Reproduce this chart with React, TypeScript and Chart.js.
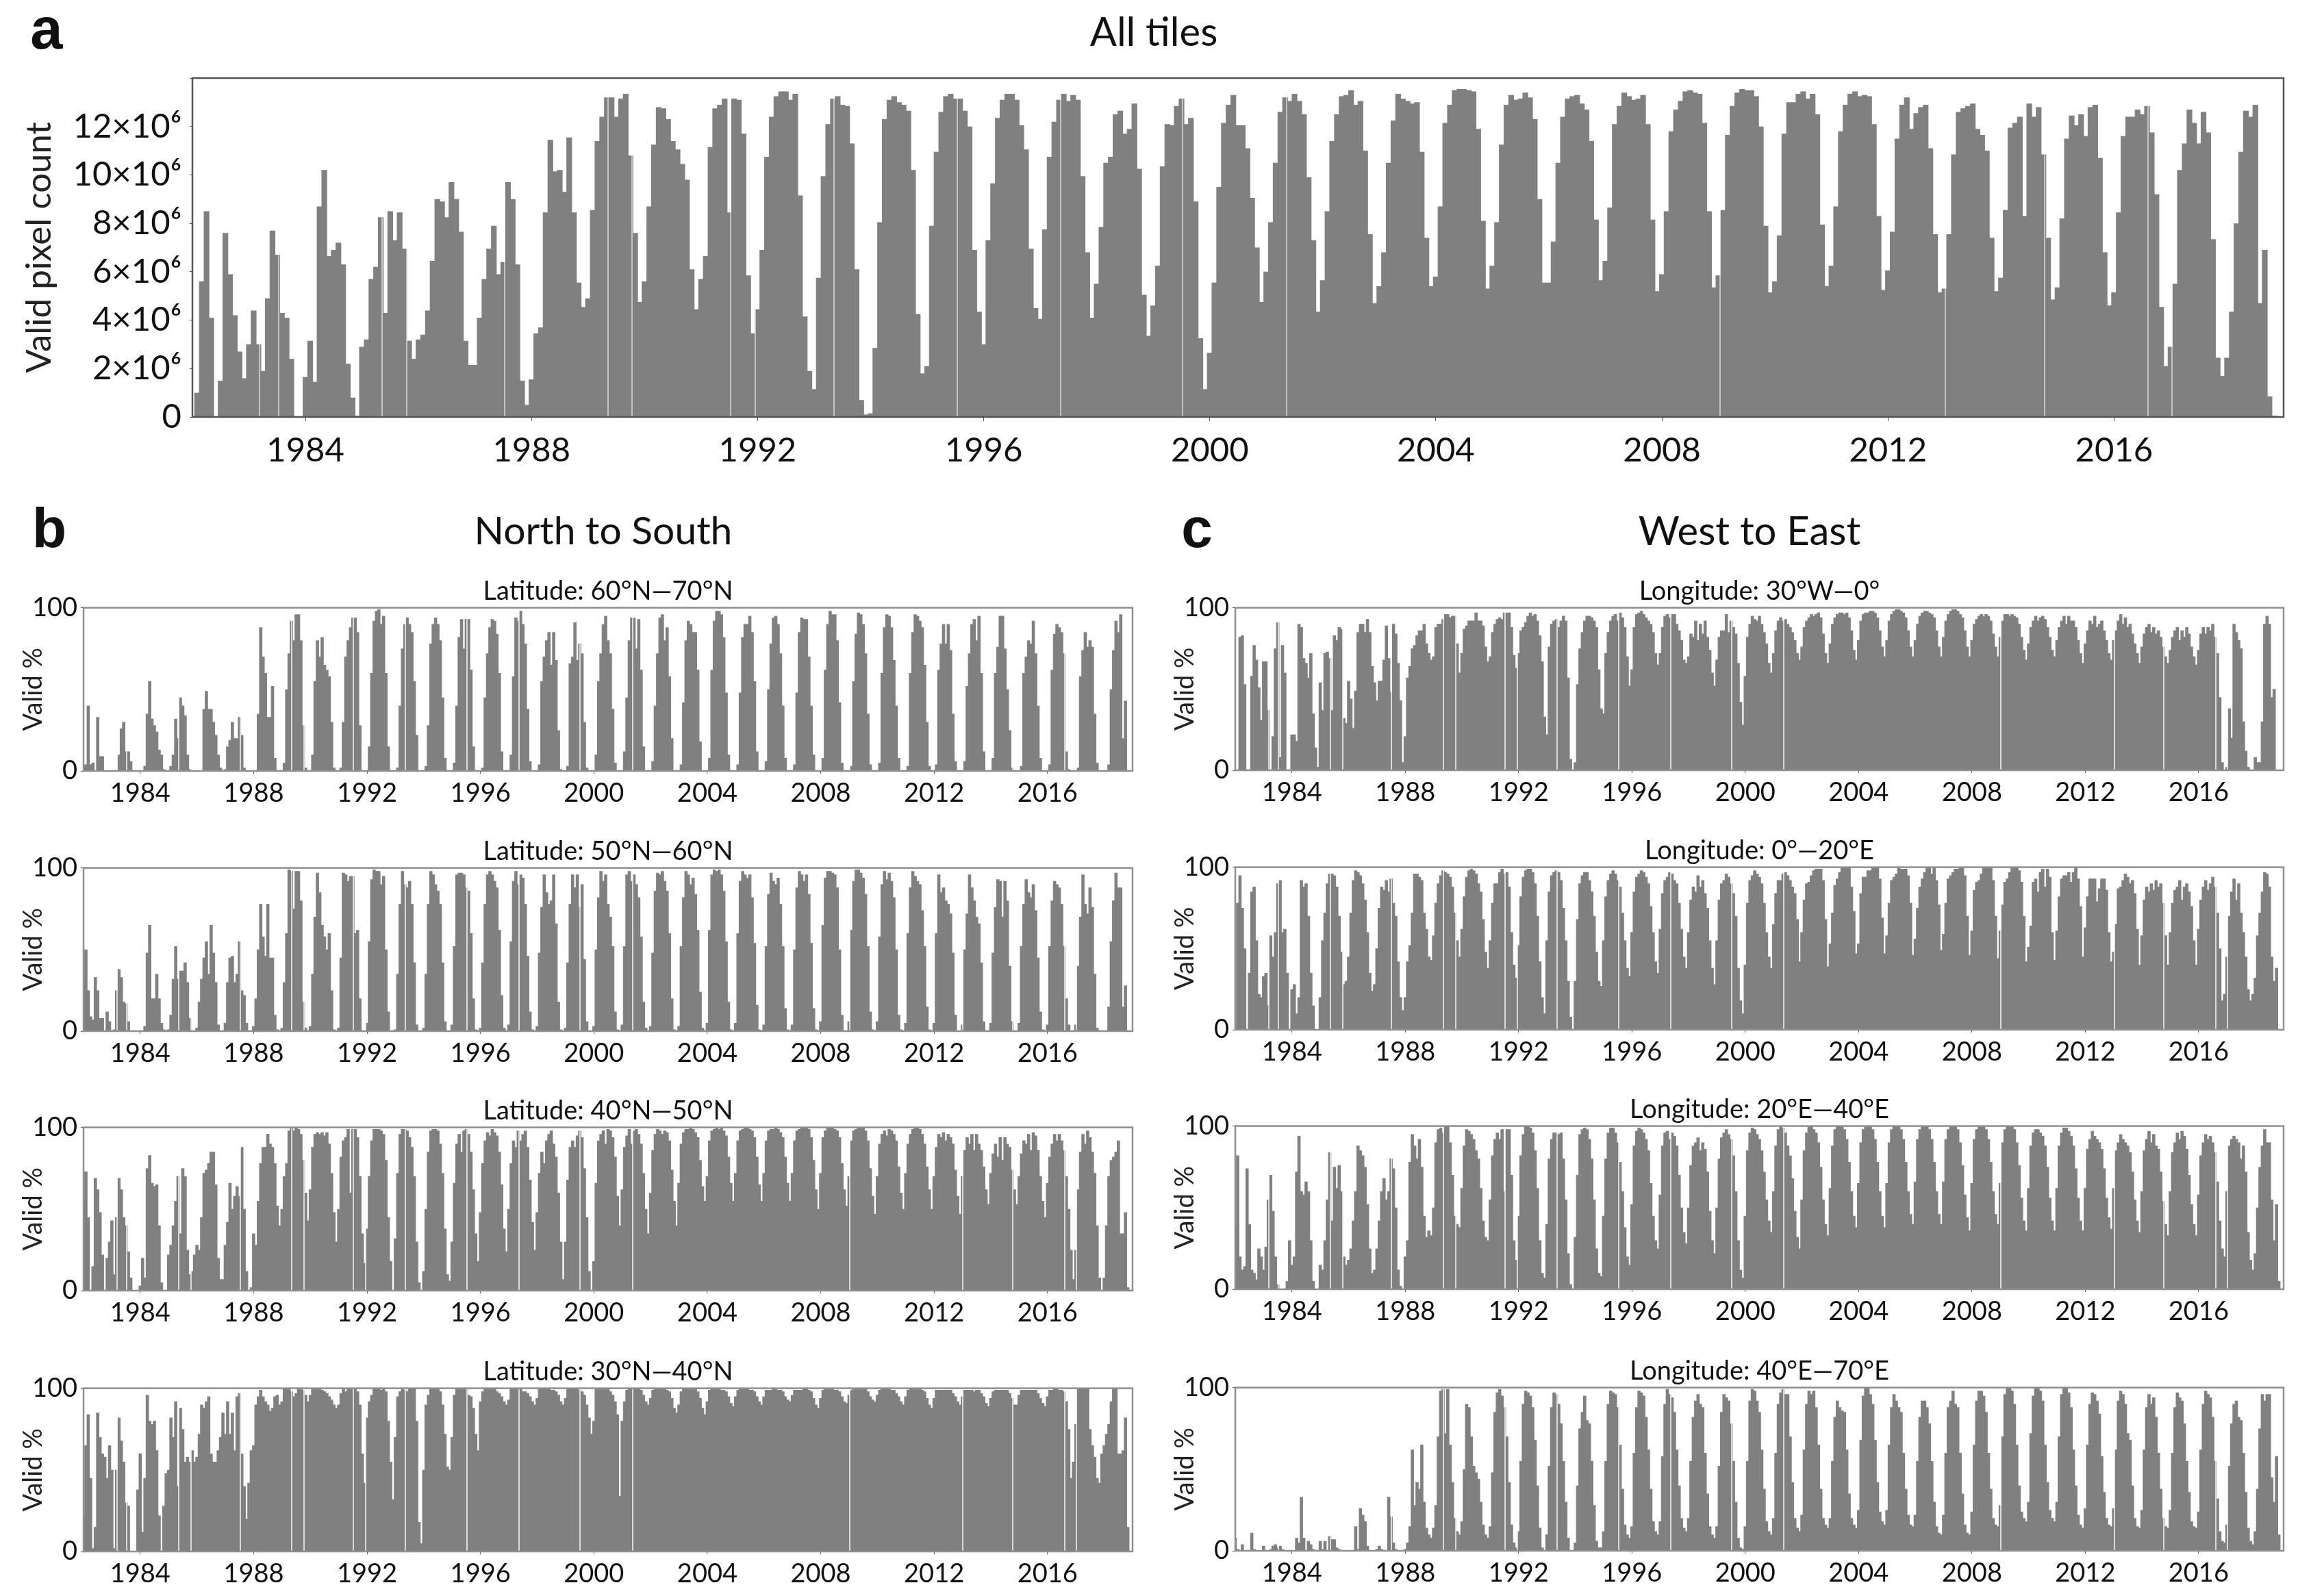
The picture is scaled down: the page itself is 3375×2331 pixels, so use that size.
import React, { useRef, useEffect } from 'react';
import Chart from 'chart.js/auto';

const years = Array.from({ length: 37 }, (_, i) => 1982 + i);
const months = ['01', '02', '03', '04', '05', '06', '07', '08', '09', '10', '11', '12'];
const tickYears = [1984, 1988, 1992, 1996, 2000, 2004, 2008, 2012, 2016];

// thin pale lines that cut through the bars in every panel, in decimal years
const gapDates = [
  1983.19, 1983.53, 1985.36, 1985.79, 1987.52, 1989.35, 1989.78, 1991.52, 1991.96, 1993.35,
  1995.53, 1997.36, 1999.52, 2001.36, 2009.03, 2013.02, 2014.77, 2016.6, 2017.03,
];

// valid pixel count in millions, Jan 1982 sits half outside the frame
const allTiles = [
  0,
  1.0, 5.6, 8.5, 4.1, 0, 1.5, 7.6, 5.9, 4.2, 2.7, 1.6, 3.0,
  4.4, 3.0, 1.9, 4.9, 7.7, 6.7, 4.3, 4.1, 2.4, 0, 0, 1.65,
  3.15, 1.45, 8.7, 10.2, 6.65, 6.9, 7.2, 6.3, 2.2, 0.8, 0.05, 2.9,
  3.2, 5.7, 6.2, 8.25, 4.3, 8.5, 7.3, 8.45, 6.95, 3.15, 2.4, 3.2,
  3.4, 4.4, 6.45, 9.0, 8.9, 8.25, 9.7, 9.0, 7.65, 3.15, 2.15, 2.15,
  4.1, 5.7, 6.95, 7.9, 5.9, 6.4, 9.7, 9.0, 6.3, 1.5, 0.5, 1.55,
  3.45, 3.7, 8.45, 11.45, 10.15, 10.2, 9.3, 11.55, 8.45, 5.55, 4.55, 4.9,
  8.55, 11.4, 12.4, 13.2, 13.2, 12.4, 13.15, 13.35, 10.8, 7.6, 4.75, 5.6,
  8.7, 11.25, 12.8, 12.75, 12.3, 11.4, 11.05, 10.45, 9.8, 6.1, 4.45, 5.7,
  6.65, 11.15, 12.75, 12.9, 13.15, 8.45, 13.15, 13.1, 11.7, 5.85, 3.45, 4.45,
  6.9, 10.75, 12.4, 13.25, 13.45, 13.45, 13.1, 13.35, 9.15, 4.15, 1.9, 1.15,
  5.75, 9.95, 12.1, 13.15, 13.25, 12.9, 12.85, 11.3, 6.1, 0.7, 0.1, 0.15,
  2.85, 8.05, 12.3, 13.1, 13.25, 13.0, 12.9, 12.65, 10.2, 4.25, 1.8, 2.1,
  7.9, 10.95, 12.6, 13.25, 13.35, 13.15, 13.15, 12.65, 12.0, 6.9, 4.35, 3.0,
  7.3, 9.65, 12.35, 13.1, 13.35, 13.35, 13.1, 12.05, 11.05, 6.95, 4.5, 4.05,
  7.75, 10.75, 12.2, 13.1, 13.35, 13.05, 13.3, 13.1, 9.95, 6.8, 4.1, 5.5,
  7.85, 10.5, 10.75, 12.5, 12.65, 11.7, 11.9, 12.95, 10.25, 5.05, 3.35, 4.6,
  6.25, 10.35, 12.1, 12.05, 12.85, 13.15, 12.1, 12.35, 8.9, 3.25, 1.15, 2.65,
  5.55, 9.5, 12.15, 12.9, 13.3, 12.05, 12.05, 11.1, 9.05, 7.0, 4.75, 6.0,
  8.05, 10.5, 12.6, 13.2, 13.05, 13.35, 13.05, 12.5, 9.9, 7.3, 4.35, 5.65,
  8.5, 11.4, 12.5, 13.25, 13.3, 13.5, 12.9, 13.05, 11.0, 7.55, 4.7, 5.4,
  6.8, 10.5, 12.25, 13.35, 13.15, 13.05, 12.95, 13.0, 10.95, 7.4, 5.4, 5.8,
  8.7, 12.15, 12.9, 13.5, 13.55, 13.55, 13.5, 13.45, 11.9, 8.1, 5.3, 6.25,
  8.05, 11.25, 12.9, 13.3, 13.1, 13.15, 13.4, 13.2, 12.3, 9.0, 5.55, 5.55,
  7.25, 10.5, 12.4, 13.15, 13.25, 13.3, 12.95, 12.7, 11.4, 8.15, 5.65, 6.45,
  8.65, 12.1, 12.85, 13.4, 13.25, 13.1, 13.15, 13.3, 12.1, 8.15, 5.2, 5.9,
  8.5, 11.8, 12.7, 13.05, 13.45, 13.5, 13.4, 13.35, 12.15, 8.5, 5.35, 5.85,
  8.55, 11.65, 12.85, 13.4, 13.55, 13.5, 13.5, 13.25, 12.0, 7.9, 5.15, 5.6,
  7.5, 11.7, 13.0, 13.0, 13.35, 13.45, 13.15, 13.35, 12.5, 7.95, 5.4, 6.25,
  8.7, 11.8, 12.9, 13.35, 13.45, 13.25, 13.3, 13.25, 12.1, 8.3, 5.25, 6.05,
  7.65, 11.5, 12.9, 13.2, 11.9, 12.55, 12.8, 12.9, 11.1, 7.55, 5.15, 5.3,
  7.55, 10.85, 12.6, 12.75, 12.85, 12.95, 11.9, 11.65, 11.0, 7.4, 5.2, 5.75,
  8.55, 11.95, 12.15, 12.4, 8.3, 12.95, 12.4, 12.8, 10.85, 7.4, 4.85, 5.35,
  8.2, 11.5, 12.45, 12.05, 12.5, 11.6, 12.8, 12.9, 10.7, 6.8, 4.6, 5.15,
  8.45, 11.6, 12.4, 12.4, 12.7, 12.5, 12.85, 11.75, 9.2, 4.55, 2.1, 2.9,
  5.5, 10.2, 11.3, 12.7, 12.15, 11.3, 12.6, 11.75, 7.35, 2.45, 1.7, 2.45,
  4.35, 8.0, 10.95, 12.65, 12.4, 12.9, 4.7, 6.9, 0.85, 0.05, 0,
];

// valid %, monthly, one row per year
const lat60to70 = [
  2, 4, 40, 4, 5, 0, 33, 9, 9, 0, 0, 0,
  0, 0, 0, 10, 26, 30, 12, 12, 6, 0, 0, 0,
  0, 0, 3, 35, 55, 32, 28, 24, 13, 10, 1, 0,
  0, 3, 10, 32, 20, 45, 40, 34, 10, 1, 0, 0,
  0, 0, 0, 38, 49, 38, 38, 30, 22, 10, 2, 0,
  1, 15, 19, 30, 20, 20, 33, 22, 2, 0, 0, 0,
  0, 0, 35, 88, 70, 60, 33, 33, 52, 8, 0, 0,
  0, 5, 50, 72, 92, 80, 96, 96, 80, 28, 2, 0,
  0, 10, 55, 80, 70, 82, 65, 62, 58, 30, 2, 0,
  0, 2, 30, 70, 80, 88, 94, 94, 85, 28, 0, 0,
  0, 15, 60, 92, 98, 99, 90, 95, 60, 15, 0, 0,
  0, 2, 40, 75, 90, 94, 90, 85, 55, 22, 0, 0,
  0, 3, 28, 78, 90, 94, 90, 80, 45, 8, 0, 0,
  0, 5, 40, 82, 93, 75, 93, 93, 62, 15, 0, 0,
  0, 2, 45, 72, 88, 93, 92, 84, 60, 12, 0, 0,
  0, 10, 58, 94, 92, 98, 90, 78, 38, 6, 0, 0,
  0, 4, 55, 70, 80, 85, 65, 85, 68, 25, 1, 0,
  0, 3, 66, 70, 91, 68, 78, 72, 30, 2, 0, 0,
  0, 10, 55, 72, 90, 95, 80, 72, 38, 5, 0, 0,
  0, 12, 45, 80, 94, 94, 75, 93, 62, 15, 0, 0,
  0, 6, 40, 72, 94, 96, 80, 88, 58, 20, 0, 0,
  0, 4, 42, 80, 92, 90, 85, 85, 62, 18, 0, 0,
  0, 8, 62, 92, 98, 98, 96, 82, 48, 10, 0, 0,
  0, 4, 48, 82, 90, 90, 95, 85, 55, 12, 0, 0,
  0, 6, 50, 78, 94, 95, 90, 72, 40, 8, 0, 0,
  0, 4, 48, 85, 94, 93, 93, 70, 40, 10, 0, 0,
  0, 8, 62, 90, 98, 96, 96, 80, 42, 5, 0, 0,
  0, 3, 55, 84, 97, 96, 90, 72, 35, 4, 0, 0,
  0, 5, 60, 88, 96, 95, 88, 68, 40, 8, 0, 0,
  0, 3, 60, 85, 96, 95, 92, 88, 65, 30, 3, 0,
  0, 4, 62, 78, 90, 78, 90, 74, 35, 6, 0, 0,
  0, 6, 52, 72, 90, 93, 80, 95, 60, 12, 0, 0,
  0, 8, 60, 76, 95, 95, 75, 50, 25, 2, 0, 0,
  0, 3, 60, 70, 80, 78, 92, 72, 40, 8, 0, 0,
  0, 4, 62, 84, 90, 88, 85, 72, 12, 1, 0, 0,
  0, 2, 58, 74, 85, 76, 80, 76, 35, 5, 0, 0,
  0, 0, 4, 50, 74, 92, 85, 96, 20, 43, 0, 0,
];

const lat50to60 = [
  33, 50, 25, 9, 7, 33, 25, 8, 8, 0, 12, 6,
  0, 1, 25, 38, 33, 18, 17, 6, 0, 0, 0, 0,
  0, 0, 3, 48, 65, 20, 20, 35, 20, 5, 1, 0,
  1, 10, 32, 52, 32, 37, 37, 42, 30, 8, 0, 0,
  2, 18, 32, 45, 55, 35, 65, 48, 30, 4, 0, 0,
  5, 30, 45, 46, 30, 35, 55, 25, 22, 5, 0, 0,
  3, 20, 50, 78, 58, 46, 78, 45, 45, 10, 1, 0,
  2, 30, 60, 99, 98, 75, 98, 98, 80, 18, 2, 0,
  3, 35, 70, 97, 85, 65, 58, 50, 60, 25, 1, 0,
  2, 45, 97, 96, 92, 95, 95, 60, 62, 20, 0, 0,
  5, 55, 93, 99, 98, 98, 90, 95, 50, 12, 0, 0,
  1, 35, 78, 98, 90, 88, 92, 78, 42, 4, 0, 0,
  2, 35, 78, 98, 96, 90, 86, 78, 42, 6, 0, 0,
  4, 52, 96, 97, 97, 96, 88, 86, 60, 20, 1, 0,
  2, 42, 78, 96, 98, 96, 92, 88, 62, 22, 2, 0,
  4, 55, 92, 98, 90, 96, 94, 78, 46, 12, 1, 0,
  3, 48, 76, 96, 85, 78, 80, 96, 66, 18, 1, 0,
  2, 42, 78, 96, 88, 96, 76, 90, 44, 6, 0, 0,
  3, 50, 82, 98, 92, 96, 78, 70, 52, 12, 1, 0,
  4, 52, 96, 98, 92, 96, 90, 82, 58, 18, 2, 0,
  3, 48, 86, 97, 96, 98, 92, 86, 60, 20, 1, 0,
  3, 52, 82, 98, 96, 90, 94, 84, 62, 24, 2, 0,
  5, 62, 96, 99, 98, 99, 96, 86, 55, 18, 1, 0,
  5, 60, 92, 98, 96, 94, 96, 82, 54, 16, 1, 0,
  4, 52, 84, 97, 92, 90, 94, 78, 52, 14, 1, 0,
  4, 50, 88, 98, 96, 92, 96, 84, 54, 14, 1, 0,
  6, 65, 94, 98, 98, 97, 96, 88, 50, 10, 0, 0,
  6, 62, 92, 99, 99, 97, 94, 84, 52, 12, 1, 0,
  6, 58, 90, 98, 93, 97, 92, 82, 50, 10, 1, 0,
  5, 60, 88, 98, 95, 92, 90, 74, 52, 15, 1, 0,
  5, 60, 96, 85, 88, 80, 78, 72, 48, 10, 0, 0,
  4, 50, 72, 96, 88, 80, 70, 66, 42, 6, 0, 0,
  5, 48, 76, 93, 92, 70, 92, 80, 40, 6, 0, 0,
  5, 52, 78, 93, 85, 82, 90, 74, 45, 12, 1, 0,
  4, 52, 80, 92, 90, 88, 78, 52, 20, 4, 0, 0,
  4, 40, 70, 96, 78, 72, 88, 76, 35, 2, 0, 0,
  0, 0, 15, 55, 80, 97, 88, 88, 15, 28, 0, 0,
];

const lat40to50 = [
  55, 73, 45, 0, 15, 69, 62, 48, 22, 0, 20, 30,
  43, 10, 45, 69, 62, 45, 40, 24, 8, 0, 0, 0,
  3, 20, 8, 75, 83, 66, 64, 65, 40, 5, 0, 0,
  22, 28, 40, 55, 70, 35, 75, 70, 25, 10, 12, 22,
  28, 25, 45, 72, 74, 78, 85, 85, 65, 20, 7, 7,
  28, 42, 66, 50, 58, 64, 58, 88, 50, 12, 0, 2,
  35, 28, 55, 78, 88, 88, 96, 90, 88, 78, 52, 40,
  50, 70, 78, 98, 100, 98, 100, 99, 96, 80, 60, 43,
  62, 88, 96, 97, 96, 97, 95, 97, 90, 72, 48, 30,
  50, 82, 92, 94, 99, 60, 99, 99, 94, 70, 35, 17,
  38, 70, 92, 99, 99, 99, 98, 96, 80, 45, 18, 0,
  32, 72, 96, 99, 99, 98, 94, 88, 70, 30, 5, 0,
  12, 50, 85, 98, 99, 99, 98, 90, 72, 38, 10, 6,
  30, 66, 90, 96, 85, 98, 99, 96, 85, 62, 35, 18,
  48, 78, 92, 97, 95, 99, 97, 95, 85, 65, 38, 24,
  50, 78, 92, 88, 98, 92, 96, 98, 88, 68, 42, 25,
  48, 72, 85, 78, 92, 96, 98, 90, 82, 60, 30, 7,
  30, 68, 88, 92, 88, 95, 98, 94, 75, 45, 12, 0,
  18, 66, 92, 96, 98, 90, 99, 98, 94, 82, 58, 40,
  62, 88, 95, 99, 90, 98, 99, 96, 90, 72, 50, 35,
  60, 86, 96, 99, 98, 96, 98, 97, 92, 74, 55, 40,
  66, 90, 97, 99, 99, 100, 99, 97, 94, 80, 64, 55,
  70, 92, 98, 99, 100, 99, 100, 98, 95, 82, 66, 55,
  72, 92, 98, 99, 100, 100, 99, 98, 94, 82, 65, 55,
  72, 92, 98, 99, 99, 100, 99, 97, 94, 82, 66, 55,
  72, 92, 98, 99, 100, 100, 100, 99, 94, 80, 62, 50,
  72, 94, 98, 100, 100, 100, 99, 98, 94, 78, 62, 52,
  70, 92, 98, 99, 100, 100, 100, 98, 92, 75, 58, 47,
  70, 90, 96, 98, 95, 99, 98, 96, 92, 76, 60, 50,
  72, 90, 96, 99, 100, 100, 99, 96, 90, 76, 62, 50,
  70, 88, 96, 94, 97, 92, 96, 94, 90, 74, 58, 47,
  70, 86, 94, 90, 96, 86, 96, 90, 86, 76, 62, 53,
  72, 84, 90, 82, 94, 80, 94, 90, 88, 74, 62, 53,
  70, 84, 92, 90, 96, 86, 97, 95, 86, 70, 55, 45,
  66, 82, 90, 96, 92, 96, 92, 86, 70, 50, 25, 7,
  25, 62, 85, 96, 90, 98, 94, 85, 72, 40, 8, 0,
  8, 40, 70, 80, 82, 85, 92, 35, 35, 48, 2,
];

const lat30to40 = [
  22, 65, 84, 45, 2, 15, 85, 70, 60, 58, 45, 65,
  50, 2, 50, 82, 68, 55, 30, 28, 0, 0, 0, 38,
  60, 12, 45, 96, 80, 78, 80, 62, 22, 0, 28, 48,
  50, 82, 70, 92, 40, 88, 75, 55, 58, 55, 62, 55,
  58, 72, 90, 88, 92, 95, 60, 55, 55, 62, 70, 85,
  72, 92, 72, 85, 62, 95, 97, 60, 40, 20, 42, 62,
  65, 90, 95, 99, 95, 92, 90, 86, 88, 95, 96, 90,
  92, 100, 100, 100, 98, 95, 97, 100, 100, 99, 96, 92,
  96, 100, 100, 100, 100, 99, 98, 97, 95, 93, 90, 88,
  90, 97, 100, 98, 100, 100, 100, 100, 98, 90, 60, 42,
  82, 92, 96, 100, 100, 100, 99, 100, 98, 80, 55, 32,
  70, 95, 98, 100, 99, 98, 100, 100, 100, 80, 18, 5,
  50, 90, 96, 100, 100, 100, 100, 98, 90, 72, 52, 50,
  70, 96, 100, 100, 100, 100, 100, 96, 95, 88, 72, 62,
  92, 98, 100, 100, 100, 100, 100, 98, 97, 95, 92, 90,
  93, 100, 100, 100, 100, 100, 98, 98, 97, 95, 92, 90,
  94, 100, 100, 100, 100, 100, 99, 99, 98, 96, 92, 90,
  94, 100, 100, 100, 100, 100, 99, 98, 96, 90, 82, 72,
  80, 100, 100, 100, 100, 100, 100, 98, 96, 92, 84, 34,
  80, 92, 99, 100, 100, 100, 100, 100, 99, 96, 92, 90,
  94, 99, 100, 100, 100, 100, 100, 99, 98, 94, 88, 85,
  90, 98, 100, 100, 100, 100, 100, 100, 98, 94, 88, 84,
  92, 99, 100, 100, 100, 100, 99, 99, 98, 95, 91, 89,
  95, 99, 100, 100, 100, 100, 99, 99, 98, 95, 92, 90,
  95, 99, 99, 99, 100, 100, 99, 99, 98, 95, 93, 92,
  96, 99, 99, 99, 99, 100, 100, 99, 98, 94, 90, 88,
  94, 99, 100, 100, 100, 100, 99, 99, 98, 95, 92, 91,
  96, 99, 100, 100, 100, 100, 100, 100, 98, 95, 93, 92,
  96, 99, 100, 100, 100, 100, 99, 99, 97, 95, 92, 90,
  95, 99, 100, 100, 100, 100, 100, 99, 98, 94, 90, 88,
  94, 99, 99, 99, 99, 99, 99, 99, 97, 95, 92, 90,
  95, 99, 99, 99, 99, 98, 99, 99, 97, 95, 91, 89,
  94, 98, 99, 99, 99, 99, 99, 99, 97, 94, 90, 90,
  96, 99, 99, 99, 99, 99, 99, 99, 97, 94, 91, 89,
  95, 99, 99, 100, 100, 99, 99, 98, 92, 75, 45, 55,
  78, 100, 100, 100, 100, 100, 75, 65, 58, 45, 42, 60,
  65, 72, 78, 92, 100, 100, 60, 60, 62, 82, 15,
];

const lon30Wto0 = [
  0, 0, 82, 83, 53, 0, 0, 58, 77, 68, 51, 31,
  67, 67, 37, 0, 21, 75, 91, 8, 77, 60, 0, 0,
  22, 22, 18, 90, 88, 69, 66, 57, 72, 35, 14, 2,
  54, 37, 72, 73, 69, 37, 83, 80, 88, 87, 32, 29,
  55, 44, 26, 49, 85, 90, 90, 85, 93, 85, 64, 54,
  43, 55, 55, 68, 89, 69, 48, 90, 84, 66, 43, 5,
  21, 57, 64, 75, 77, 83, 86, 86, 90, 78, 72, 68,
  70, 88, 90, 90, 93, 96, 96, 94, 95, 95, 78, 60,
  72, 87, 89, 92, 92, 92, 97, 92, 92, 89, 76, 67,
  70, 85, 90, 93, 94, 93, 97, 97, 97, 88, 71, 63,
  72, 86, 88, 91, 95, 97, 95, 96, 92, 83, 67, 33,
  22, 76, 90, 92, 93, 88, 92, 95, 92, 57, 7, 0,
  5, 53, 75, 85, 92, 95, 95, 94, 92, 88, 62, 38,
  35, 72, 85, 92, 95, 96, 92, 97, 94, 88, 70, 52,
  62, 88, 96, 97, 98, 96, 94, 92, 90, 85, 72, 65,
  72, 88, 95, 96, 94, 96, 96, 90, 86, 80, 68, 66,
  70, 84, 82, 92, 80, 90, 84, 92, 82, 74, 60, 52,
  68, 82, 86, 86, 96, 85, 92, 88, 84, 66, 42, 28,
  58, 82, 90, 95, 93, 92, 95, 90, 85, 78, 66, 60,
  72, 86, 92, 94, 92, 93, 90, 88, 85, 80, 72, 68,
  76, 88, 92, 94, 96, 95, 96, 97, 94, 84, 72, 66,
  78, 90, 94, 96, 97, 97, 96, 97, 94, 86, 74, 68,
  80, 92, 96, 97, 97, 98, 98, 97, 94, 86, 76, 70,
  80, 92, 96, 98, 99, 99, 98, 97, 94, 86, 76, 70,
  80, 90, 95, 97, 98, 98, 97, 96, 94, 86, 76, 70,
  82, 92, 96, 98, 99, 99, 98, 96, 94, 86, 76, 70,
  80, 90, 93, 95, 96, 95, 96, 95, 92, 84, 76, 70,
  82, 92, 96, 96, 95, 96, 95, 94, 90, 82, 74, 68,
  78, 88, 92, 95, 92, 94, 95, 93, 88, 82, 74, 70,
  80, 88, 92, 95, 90, 95, 92, 92, 88, 80, 72, 66,
  78, 86, 92, 90, 95, 88, 90, 92, 86, 80, 72, 68,
  80, 86, 92, 96, 90, 94, 88, 90, 84, 78, 72, 66,
  76, 84, 88, 90, 85, 88, 84, 86, 82, 76, 70, 66,
  74, 82, 86, 88, 80, 86, 82, 88, 84, 76, 70, 65,
  74, 84, 88, 84, 88, 86, 90, 82, 72, 45, 5, 0,
  2, 38, 20, 90, 85, 80, 75, 30, 12, 2, 0, 0,
  8, 5, 5, 30, 90, 95, 90, 45, 50, 0, 0,
];

const lon0to20E = [
  0, 78, 95, 75, 50, 0, 35, 85, 88, 55, 22, 20,
  33, 35, 15, 58, 45, 60, 90, 92, 60, 62, 35, 0,
  25, 28, 10, 20, 92, 88, 90, 70, 35, 15, 0, 0,
  20, 55, 72, 90, 96, 96, 95, 88, 70, 48, 28, 30,
  45, 72, 92, 98, 97, 95, 90, 80, 60, 35, 24, 28,
  50, 75, 88, 86, 92, 85, 93, 78, 70, 42, 20, 12,
  20, 42, 52, 72, 96, 96, 94, 92, 72, 62, 45, 43,
  58, 78, 90, 95, 98, 97, 96, 94, 88, 72, 55, 45,
  62, 82, 94, 98, 99, 98, 96, 90, 85, 68, 48, 38,
  55, 78, 90, 90, 97, 99, 96, 97, 88, 60, 40, 32,
  52, 82, 94, 98, 99, 99, 97, 90, 70, 42, 20, 10,
  55, 85, 95, 97, 98, 97, 92, 75, 55, 30, 8, 0,
  30, 68, 90, 95, 97, 97, 92, 85, 70, 48, 30, 27,
  55, 82, 92, 96, 98, 96, 92, 88, 72, 55, 38, 33,
  60, 85, 94, 96, 98, 97, 94, 90, 76, 60, 42, 35,
  62, 84, 92, 94, 97, 96, 92, 90, 78, 62, 45, 38,
  60, 80, 88, 85, 95, 88, 92, 84, 75, 55, 38, 28,
  55, 80, 90, 92, 96, 94, 90, 84, 70, 38, 18, 10,
  40, 78, 92, 95, 98, 96, 94, 90, 78, 60, 45, 38,
  65, 84, 92, 92, 96, 97, 95, 92, 88, 84, 68, 42,
  60, 80, 90, 91, 95, 98, 99, 99, 99, 92, 68, 39,
  53, 72, 89, 93, 97, 100, 100, 100, 100, 88, 73, 47,
  53, 84, 94, 94, 98, 98, 100, 100, 100, 93, 69, 47,
  58, 78, 92, 94, 96, 100, 99, 99, 99, 95, 78, 46,
  56, 75, 88, 93, 97, 100, 100, 96, 100, 92, 77, 49,
  59, 78, 93, 95, 97, 99, 99, 100, 100, 95, 70, 46,
  61, 86, 91, 92, 96, 100, 100, 100, 100, 92, 70, 44,
  61, 77, 91, 93, 97, 100, 100, 100, 98, 91, 70, 42,
  51, 64, 91, 93, 85, 97, 99, 88, 99, 94, 60, 43,
  61, 82, 93, 95, 95, 97, 91, 97, 100, 93, 76, 45,
  63, 82, 93, 93, 93, 79, 87, 93, 93, 86, 60, 42,
  48, 65, 87, 88, 92, 96, 94, 90, 92, 84, 62, 40,
  58, 80, 88, 85, 90, 86, 92, 88, 90, 78, 58, 40,
  60, 78, 86, 88, 92, 80, 88, 90, 85, 76, 55, 40,
  62, 80, 88, 92, 86, 90, 94, 88, 72, 50, 18, 22,
  45, 70, 85, 93, 80, 90, 72, 60, 45, 25, 18, 22,
  32, 58, 72, 85, 97, 96, 88, 45, 30, 38, 0,
];

const lon20to40E = [
  38, 82, 20, 12, 14, 74, 40, 12, 10, 6, 25, 20,
  12, 26, 55, 70, 48, 20, 3, 0, 0, 0, 5, 30,
  15, 20, 72, 94, 60, 58, 66, 60, 30, 5, 0, 0,
  15, 12, 30, 55, 84, 42, 75, 62, 76, 60, 20, 15,
  18, 25, 42, 60, 88, 85, 82, 75, 52, 25, 10, 12,
  25, 42, 60, 68, 55, 60, 80, 74, 50, 12, 2, 0,
  20, 30, 78, 95, 88, 80, 92, 75, 45, 32, 36, 33,
  50, 90, 98, 99, 96, 100, 100, 90, 70, 45, 40, 38,
  62, 88, 98, 97, 95, 92, 85, 80, 62, 42, 32, 30,
  55, 82, 92, 96, 92, 98, 60, 98, 98, 70, 30, 18,
  45, 82, 95, 100, 100, 99, 96, 85, 62, 30, 10, 7,
  40, 80, 92, 96, 96, 95, 96, 80, 55, 22, 3, 0,
  32, 70, 95, 98, 99, 98, 92, 80, 55, 25, 10, 8,
  45, 80, 96, 99, 99, 96, 90, 78, 60, 38, 20, 15,
  52, 88, 97, 99, 98, 96, 92, 85, 65, 45, 30, 25,
  58, 88, 96, 97, 92, 96, 94, 88, 70, 50, 35, 28,
  50, 76, 88, 90, 93, 85, 90, 86, 72, 48, 30, 22,
  50, 80, 93, 96, 98, 95, 92, 82, 60, 30, 12, 7,
  45, 85, 96, 99, 98, 95, 92, 85, 72, 55, 42, 35,
  60, 88, 98, 100, 99, 96, 88, 82, 68, 48, 32, 25,
  55, 85, 96, 100, 100, 98, 96, 90, 75, 55, 40, 33,
  62, 88, 98, 100, 100, 100, 98, 92, 78, 60, 45, 38,
  65, 90, 98, 100, 100, 100, 98, 92, 78, 60, 45, 38,
  65, 90, 98, 100, 100, 100, 98, 92, 78, 60, 46, 40,
  66, 92, 98, 100, 100, 100, 98, 92, 78, 60, 46, 40,
  66, 92, 98, 100, 100, 100, 98, 90, 76, 58, 44, 36,
  65, 92, 98, 100, 100, 100, 98, 92, 78, 60, 46, 40,
  65, 90, 98, 100, 100, 100, 98, 90, 76, 56, 42, 36,
  62, 88, 96, 98, 98, 96, 94, 88, 75, 56, 42, 36,
  62, 88, 96, 99, 99, 97, 94, 88, 74, 56, 42, 36,
  62, 86, 92, 97, 94, 92, 90, 86, 74, 56, 44, 37,
  62, 85, 90, 95, 92, 90, 88, 84, 72, 55, 42, 35,
  60, 85, 92, 97, 90, 95, 88, 86, 72, 54, 40, 33,
  60, 84, 90, 96, 92, 97, 94, 86, 70, 52, 40, 33,
  58, 82, 90, 95, 92, 94, 90, 84, 66, 42, 25, 20,
  60, 88, 92, 94, 92, 90, 80, 88, 72, 35, 18, 12,
  22, 50, 75, 88, 98, 90, 90, 55, 30, 52, 5,
];

const lon40to70E = [
  8, 1, 0, 4, 0, 0, 0, 11, 1, 0, 0, 0,
  3, 0, 0, 1, 3, 4, 2, 3, 1, 0, 0, 0,
  0, 0, 8, 5, 33, 8, 0, 6, 4, 1, 0, 0,
  6, 1, 6, 0, 9, 7, 7, 2, 1, 0, 0, 0,
  0, 0, 0, 15, 1, 26, 22, 18, 3, 0, 0, 0,
  1, 3, 1, 0, 0, 33, 21, 5, 1, 0, 0, 0,
  1, 5, 15, 62, 28, 42, 38, 65, 30, 14, 10, 8,
  14, 28, 70, 98, 99, 72, 99, 65, 42, 20, 12, 10,
  18, 50, 90, 88, 70, 52, 48, 44, 30, 16, 10, 8,
  15, 48, 85, 97, 99, 95, 88, 70, 42, 16, 5, 2,
  12, 55, 90, 98, 97, 95, 88, 68, 40, 14, 2, 0,
  10, 52, 88, 97, 96, 90, 78, 55, 30, 8, 0, 0,
  5, 40, 75, 85, 95, 80, 78, 55, 28, 6, 2, 2,
  12, 55, 90, 98, 97, 96, 88, 65, 38, 16, 10, 8,
  15, 60, 88, 98, 97, 95, 82, 62, 38, 18, 12, 10,
  18, 58, 90, 99, 96, 94, 85, 62, 40, 20, 14, 12,
  20, 55, 82, 92, 96, 90, 88, 60, 35, 15, 10, 8,
  15, 52, 85, 96, 94, 92, 78, 55, 30, 8, 2, 1,
  15, 55, 92, 99, 98, 92, 85, 62, 38, 18, 12, 10,
  20, 60, 90, 97, 99, 96, 96, 70, 42, 20, 14, 12,
  22, 62, 90, 98, 96, 98, 88, 65, 38, 20, 16, 14,
  20, 55, 82, 92, 88, 86, 85, 62, 35, 20, 16, 14,
  25, 68, 95, 100, 100, 96, 90, 68, 42, 24, 18, 16,
  25, 65, 88, 96, 92, 88, 85, 60, 38, 22, 16, 15,
  22, 55, 82, 92, 92, 88, 78, 55, 30, 15, 11, 10,
  22, 60, 88, 92, 98, 90, 88, 60, 35, 16, 11, 10,
  24, 65, 92, 98, 98, 95, 85, 60, 38, 20, 16, 15,
  28, 70, 96, 100, 100, 98, 90, 65, 40, 24, 20, 18,
  30, 72, 95, 100, 100, 98, 92, 65, 42, 25, 20, 18,
  30, 70, 96, 100, 100, 97, 88, 62, 40, 22, 16, 14,
  26, 65, 90, 97, 96, 92, 84, 58, 36, 20, 16, 15,
  26, 62, 92, 98, 96, 90, 72, 68, 40, 20, 15, 14,
  25, 62, 88, 96, 90, 94, 82, 60, 38, 20, 15, 14,
  25, 60, 88, 97, 94, 92, 78, 55, 36, 18, 15, 14,
  24, 62, 90, 98, 96, 94, 82, 55, 32, 12, 6, 5,
  16, 52, 78, 90, 92, 82, 80, 60, 36, 14, 6, 4,
  12, 38, 75, 96, 92, 96, 96, 45, 30, 58, 10,
];

const monthLabels = [...years.flatMap((y) => months.map((m) => `${y}-${m}`)), '2019-01'];
const tickLabels = tickYears.map((y) => `${y}-01`);

const framePlugin = {
  id: 'frame',
  afterDatasetsDraw(chart: any, _args: any, opts: any) {
    const { ctx, chartArea: a, scales } = chart;
    ctx.save();
    ctx.strokeStyle = 'rgba(255,255,255,0.7)';
    ctx.lineWidth = opts.gapWidth;
    gapDates.forEach((d) => {
      const px = Math.round(scales.x.getPixelForValue((d - 1982) * 12));
      ctx.beginPath();
      ctx.moveTo(px, a.top);
      ctx.lineTo(px, a.bottom);
      ctx.stroke();
    });
    ctx.strokeStyle = opts.color;
    ctx.lineWidth = opts.width;
    ctx.strokeRect(a.left, a.top, a.right - a.left, a.bottom - a.top);
    ctx.restore();
  },
};

type PanelProps = {
  left: number;
  top: number;
  width: number;
  height: number;
  values: number[];
  title?: string;
  big?: boolean;
};

const Panel = ({ left, top, width, height, values, title, big }: PanelProps) => {
  const chartRef = useRef<HTMLCanvasElement>(null);
  const axisW = big ? 281 : 122;
  const axisH = big ? 90 : 60;
  const headH = title ? 50 : 6;

  useEffect(() => {
    if (!chartRef.current) return;
    const myChart = new Chart(chartRef.current, {
      type: 'bar',
      data: {
        labels: monthLabels,
        datasets: [
          {
            data: values,
            backgroundColor: '#808080',
            borderWidth: 0,
            // bars overlap a little, otherwise antialiased seams show between them
            barPercentage: big ? 1.2 : 1.35,
            categoryPercentage: 1,
          },
        ],
      },
      plugins: [framePlugin],
      options: {
        responsive: false,
        animation: false,
        layout: { padding: { right: 4, top: title ? 0 : 6 } },
        plugins: {
          legend: { display: false },
          tooltip: { enabled: false },
          title: {
            display: !!title,
            text: title,
            color: '#111',
            fullSize: false,
            font: { family: 'Lato', size: 38, weight: 'normal' },
            padding: { top: 3, bottom: 1 },
          },
          frame: { color: big ? '#555555' : '#8f8f8f', width: 2.5, gapWidth: big ? 1.5 : 2 },
        } as any,
        scales: {
          x: {
            offset: false,
            grid: { drawOnChartArea: false, offset: false, tickLength: big ? 6 : 4, color: '#555' },
            border: { display: false },
            afterBuildTicks: (axis: any) => {
              axis.ticks = axis.ticks.filter((t: any) => tickLabels.includes(monthLabels[t.value]));
            },
            afterFit: (axis: any) => {
              axis.height = axisH;
              axis.paddingLeft = 0;
              axis.paddingRight = 0;
            },
            ticks: {
              autoSkip: false,
              maxRotation: 0,
              color: '#111',
              padding: big ? 14 : 6,
              font: { family: 'Lato', size: big ? 49 : 38 },
              callback: (v: any) => monthLabels[v].slice(0, 4),
            },
          },
          y: {
            min: 0,
            max: big ? 14 : 100,
            grid: { drawOnChartArea: false, tickLength: 4, color: '#555' },
            border: { display: false },
            afterFit: (axis: any) => {
              axis.width = axisW;
              axis.paddingTop = 0;
              axis.paddingBottom = 0;
            },
            title: {
              display: true,
              text: big ? 'Valid pixel count' : 'Valid %',
              color: '#222',
              font: { family: 'Lato', size: big ? 51 : 38 },
              padding: { top: big ? 27 : 26, bottom: 0 },
            },
            ticks: {
              stepSize: big ? 2 : 100,
              color: '#111',
              padding: big ? 12 : 5,
              font: { family: 'Lato', size: big ? 49 : 38 },
              callback: (v: any) => {
                if (!big) return v;
                if (v === 14) return '';
                return v === 0 ? '0' : `${v}×10⁶`;
              },
            },
          },
        },
      },
    } as any);
    return () => myChart.destroy();
  }, []);

  const w = axisW + width + 4;
  const h = headH + height + axisH;
  return (
    <canvas
      ref={chartRef}
      width={w}
      height={h}
      style={{ position: 'absolute', left: left - axisW, top: top - headH, width: w, height: h }}
    />
  );
};

const Heading = ({ x, top, size, text, bold }: { x: number; top: number; size: number; text: string; bold?: boolean }) => (
  <div
    style={{
      position: 'absolute',
      left: x - 400,
      top,
      width: 800,
      textAlign: 'center',
      lineHeight: 1,
      fontSize: size,
      color: '#111',
      fontFamily: bold ? '"Liberation Sans"' : 'Lato',
      fontWeight: bold ? 'bold' : 'normal',
    }}
  >
    {text}
  </div>
);

const App = () => (
  <div style={{ position: 'absolute', left: 0, top: 0, width: 3375, height: 2331, background: '#fff', overflow: 'hidden' }}>
    <Heading x={68} top={-1} size={85} text="a" bold />
    <Heading x={1685} top={16} size={58} text="All tiles" />
    <Heading x={72} top={730} size={82} text="b" bold />
    <Heading x={881} top={745} size={57} text="North to South" />
    <Heading x={1748} top={730} size={82} text="c" bold />
    <Heading x={2555} top={745} size={58} text="West to East" />

    <Panel big left={281} top={114} width={3054} height={495} values={allTiles} />

    <Panel left={122} top={888} width={1532} height={238} values={lat60to70} title="Latitude: 60°N—70°N" />
    <Panel left={122} top={1268} width={1532} height={238} values={lat50to60} title="Latitude: 50°N—60°N" />
    <Panel left={122} top={1647} width={1532} height={238} values={lat40to50} title="Latitude: 40°N—50°N" />
    <Panel left={122} top={2028} width={1532} height={238} values={lat30to40} title="Latitude: 30°N—40°N" />

    <Panel left={1804} top={888} width={1531} height={237} values={lon30Wto0} title="Longitude: 30°W—0°" />
    <Panel left={1804} top={1267} width={1531} height={237} values={lon0to20E} title="Longitude: 0°—20°E" />
    <Panel left={1804} top={1645} width={1531} height={238} values={lon20to40E} title="Longitude: 20°E—40°E" />
    <Panel left={1804} top={2027} width={1531} height={238} values={lon40to70E} title="Longitude: 40°E—70°E" />
  </div>
);

export default App;
